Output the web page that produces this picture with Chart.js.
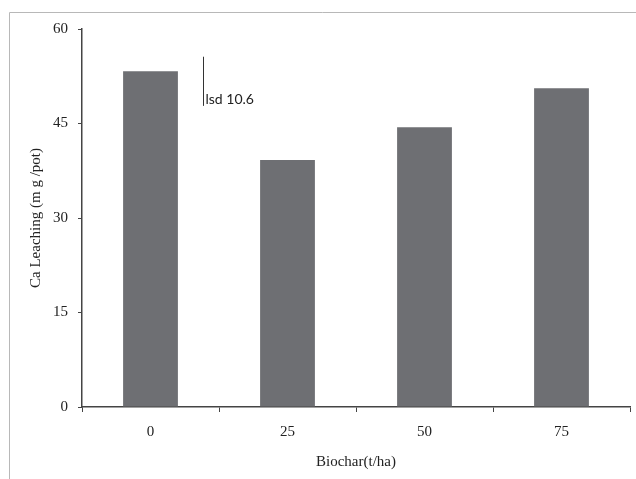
<!DOCTYPE html>
<html>
<head>
<meta charset="utf-8">
<script src="https://cdn.jsdelivr.net/npm/chart.js@4.4.0/dist/chart.umd.min.js"></script>
<style>
  html, body { margin: 0; padding: 0; background: #fff; }
  #wrap { width: 636px; height: 479px; }
</style>
</head>
<body>
<div id="wrap"><canvas id="myChart" width="636" height="479"></canvas></div>
<script>
// data
var biocharRates = ["0", "25", "50", "75"];
var caLeaching = [53.3, 39.2, 44.4, 50.6];
var yTicks = [0, 15, 30, 45, 60];
var lsdLabel = "lsd 10.6";
var lsdRange = [47.8, 55.6];   // drawn extent of the lsd bar, in data units
var lsdAt = 0.38;              // category position of the lsd bar

var serif = "'Liberation Serif', 'DejaVu Serif', serif";

// grey frame round the picture
var framePlugin = {
  id: "frame",
  beforeDraw: function (chart) {
    var ctx = chart.ctx;
    ctx.save();
    ctx.strokeStyle = "#b8b8b8";
    ctx.lineWidth = 1;
    ctx.beginPath();
    ctx.moveTo(9.5, 479);
    ctx.lineTo(9.5, 12.5);
    ctx.lineTo(636, 12.5);
    ctx.stroke();
    ctx.restore();
  }
};

// lsd marker
var lsdPlugin = {
  id: "lsd",
  afterDatasetsDraw: function (chart) {
    var ctx = chart.ctx;
    var x = Math.round(chart.scales.x.getPixelForValue(lsdAt)) + 0.5;
    var y1 = chart.scales.y.getPixelForValue(lsdRange[1]);
    var y0 = chart.scales.y.getPixelForValue(lsdRange[0]);
    ctx.save();
    ctx.strokeStyle = "#333";
    ctx.lineWidth = 1;
    ctx.beginPath();
    ctx.moveTo(x, y1);
    ctx.lineTo(x, y0);
    ctx.stroke();
    ctx.fillStyle = "#222";
    ctx.font = "14px Lato, 'Open Sans', sans-serif";
    ctx.textBaseline = "bottom";
    ctx.fillText(lsdLabel, x + 2, y0 + 1);
    ctx.restore();
  }
};

var ctx = document.getElementById("myChart").getContext("2d");
var myChart = new Chart(ctx, {
  type: "bar",
  data: {
    labels: biocharRates,
    datasets: [
      {
        label: "Ca Leaching",
        data: caLeaching,
        backgroundColor: "#6e6f73",
        borderWidth: 0,
        barPercentage: 0.8,
        categoryPercentage: 0.5,
      },
    ],
  },
  plugins: [framePlugin, lsdPlugin],
  options: {
    responsive: false,
    animation: false,
    layout: { padding: { left: 0, right: 6, top: 29, bottom: 0 } },
    plugins: {
      legend: { display: false },
      tooltip: { enabled: false },
    },
    scales: {
      x: {
        grid: {
          offset: true,
          drawOnChartArea: false,
          drawTicks: true,
          tickLength: 5,
          color: "#444",
        },
        border: { color: "#444", width: 1.5 },
        ticks: {
          color: "#222",
          padding: 11,
          font: { family: serif, size: 15 },
        },
        title: {
          display: true,
          text: "Biochar(t/ha)",
          color: "#222",
          padding: { top: 0, bottom: 8 },
          font: { family: serif, size: 15 },
        },
        afterFit: function (scale) {
          scale.height = 72;
        },
      },
      y: {
        min: 0,
        max: 60,
        afterBuildTicks: function (scale) {
          scale.ticks = yTicks.map(function (v) { return { value: v }; });
        },
        grid: {
          drawOnChartArea: false,
          drawTicks: true,
          tickLength: 4,
          color: "#444",
        },
        border: { color: "#444", width: 1.5 },
        ticks: {
          color: "#222",
          padding: 10,
          font: { family: serif, size: 15 },
        },
        title: {
          display: true,
          text: "Ca Leaching (m g /pot)",
          color: "#222",
          padding: { top: 27, bottom: 0 },
          font: { family: serif, size: 15 },
        },
        afterFit: function (scale) {
          scale.width = 82;
        },
      },
    },
  },
});
</script>
</body>
</html>
